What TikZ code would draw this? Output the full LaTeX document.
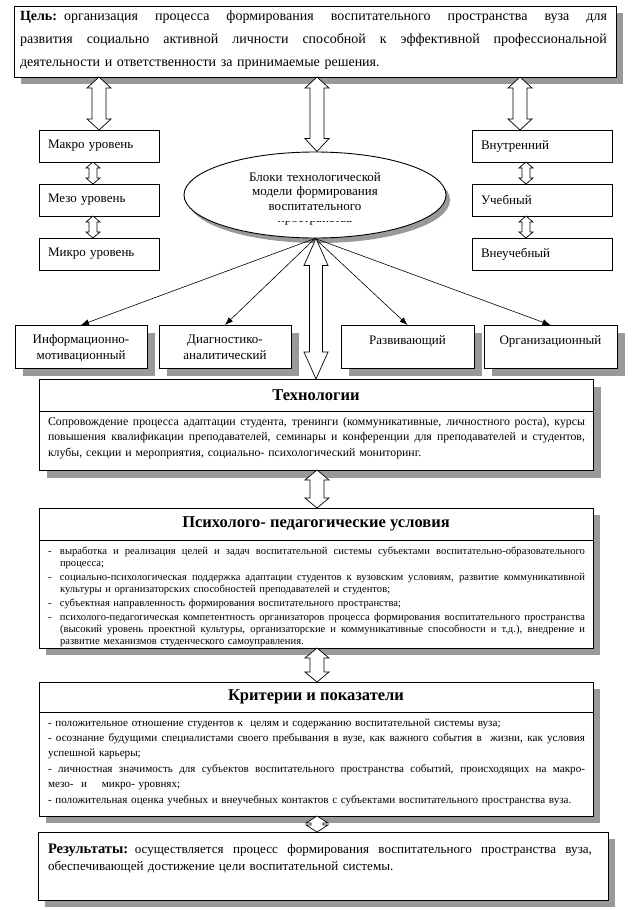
\documentclass[tikz,border=0pt]{standalone}
\usepackage{fontspec}
\setmainfont{Liberation Serif}
\usetikzlibrary{arrows.meta,calc,shapes.geometric,shadows}

\newcommand{\jl}[2]{\makebox[#1][s]{\spaceskip=0.3333em plus 1fil\relax #2}}
\newcommand{\itemJ}[1]{\makebox[12pt][l]{-}\makebox[525pt][s]{\spaceskip=0.3333em plus 1fil\relax #1}}
\newcommand{\itemL}[1]{\makebox[12pt][l]{-}#1}
\newcommand{\contJ}[1]{\hspace*{12pt}\makebox[525pt][s]{\spaceskip=0.3333em plus 1fil\relax #1}}
\newcommand{\contL}[1]{\hspace*{12pt}#1}

% vertical double block arrow: #1 x, #2 upper point, #3 lower point,
% #4 half shaft, #5 half head, #6 upper head length, #7 lower head length
\newcommand{\vdarrow}[7]{%
  \draw[blockarrow] let \p1=#2, \p2=#3 in
    (#1pt,\y1) -- (#1pt+#5pt,\y1-#6pt) -- (#1pt+#4pt,\y1-#6pt)
    -- (#1pt+#4pt,\y2+#7pt) -- (#1pt+#5pt,\y2+#7pt) -- (#1pt,\y2)
    -- (#1pt-#5pt,\y2+#7pt) -- (#1pt-#4pt,\y2+#7pt)
    -- (#1pt-#4pt,\y1-#6pt) -- (#1pt-#5pt,\y1-#6pt) -- cycle;}

\tikzset{
  box/.style={draw, line width=0.9pt, fill=white, rectangle, inner sep=0pt, outer sep=0pt, anchor=north west},
  shad/.style={drop shadow={shadow xshift=#1pt, shadow yshift=-#1pt, fill=black!40, opacity=1}},
  lbl/.style={inner sep=0pt, outer sep=0pt, anchor=base west, align=left},
  lvlbox/.style={box, minimum height=32pt, inner xsep=9pt, font=\fontsize{13}{15}\selectfont, align=left},
  blockbox/.style={box, minimum width=132pt, minimum height=43pt, shad=8},
  blocktext/.style={inner sep=0pt, anchor=base, text width=132pt, align=center, font=\fontsize{13}{16}\selectfont},
  blockarrow/.style={draw, fill=white, line width=0.7pt, line join=miter},
  conn/.style={-{Latex[length=8pt,width=6pt]}, line width=0.6pt},
  titletext/.style={inner sep=0pt, font=\fontsize{16.5}{19}\selectfont\bfseries},
  divider/.style={line width=0.9pt},
}

\begin{document}
\begin{tikzpicture}[x=1pt,y=-1pt]
\fill[white] (0,0) rectangle (634,910);
\useasboundingbox (0,0) rectangle (634,910);

% ---------- goal ----------
\node[box, minimum width=602pt, minimum height=71pt, shad=7] (goal) at (14,6) {};
\node[lbl, text width=587pt, font=\fontsize{14}{23}\selectfont] (goaltext) at (20,20) {%
\jl{587pt}{\textbf{Цель:} организация процесса формирования воспитательного пространства вуза для}\\
\jl{587pt}{развития социально активной личности способной к эффективной профессиональной}\\
деятельности и ответственности за принимаемые решения.};

% ---------- levels ----------
\node[lvlbox, minimum width=120pt, text width=102pt] (macro) at (39,130) {Макро уровень};
\node[lvlbox, minimum width=120pt, text width=102pt] (meso) at (39,184) {Мезо уровень};
\node[lvlbox, minimum width=120pt, text width=102pt] (micro) at (39,238) {Микро уровень};
\node[lvlbox, minimum width=140pt, text width=122pt] (inner) at (472,130) {Внутренний};
\node[lvlbox, minimum width=140pt, text width=122pt] (study) at (472,184) {Учебный};
\node[lvlbox, minimum width=140pt, text width=122pt] (extra) at (472,238) {Внеучебный};

% ---------- ellipse ----------
\node[ellipse, draw, line width=0.9pt, fill=white, minimum width=262pt, minimum height=86pt, inner sep=0pt,
      drop shadow={shadow xshift=4pt, shadow yshift=-5pt, fill=black!40, opacity=1}] (ell) at (315,195) {};
\node[inner sep=0pt, anchor=base, text width=200pt, align=center, font=\fontsize{13}{14.5}\selectfont] (elltext) at (315,181)
  {Блоки технологической\\модели формирования\\воспитательного};
\begin{scope}
  \clip (240,221) rectangle (390,227);
  \node[inner sep=0pt, anchor=base, font=\fontsize{13}{14.5}\selectfont] (ellcut) at (315,222.5) {пространства};
\end{scope}

% ---------- blocks ----------
\node[blockbox] (info) at (15,325) {};
\node[blocktext] (infotext) at (81,343) {Информационно-\\мотивационный};
\node[blockbox] (diag) at (159,325) {};
\node[blocktext] (diagtext) at (225,343) {Диагностико-\\аналитический};
\node[blockbox, minimum width=133pt] (devel) at (341,325) {};
\node[blocktext] (develtext) at (407.5,344) {Развивающий};
\node[blockbox, minimum width=133pt] (org) at (484,325) {};
\node[blocktext] (orgtext) at (550.5,344) {Организационный};

\draw[conn] (ell.south) -- (info.north);
\draw[conn] (ell.south) -- (diag.north);
\draw[conn] (ell.south) -- (devel.north);
\draw[conn] (ell.south) -- (org.north);

% ---------- technologies ----------
\node[box, minimum width=554pt, minimum height=91pt, shad=8] (tech) at (39,379) {};
\draw[divider] ($(tech.north west)+(0,32)$) -- ($(tech.north east)+(0,32)$);
\node[titletext] (techtitle) at ($(tech.north)+(0,16)$) {Технологии};
\node[lbl, text width=537pt, font=\fontsize{11.8}{15.5}\selectfont] (techbody) at (48,425) {%
\jl{537pt}{Сопровождение процесса адаптации студента, тренинги (коммуникативные, личностного роста), курсы}\\
\jl{537pt}{повышения квалификации преподавателей, семинары и конференции для преподавателей и студентов,}\\
клубы, секции и мероприятия, социально- психологический мониторинг.};

% ---------- conditions ----------
\node[box, minimum width=554pt, minimum height=140pt, shad=7] (psy) at (39,508) {};
\draw[divider] ($(psy.north west)+(0,32)$) -- ($(psy.north east)+(0,32)$);
\node[titletext] (psytitle) at ($(psy.north)+(0,16)$) {Психолого- педагогические условия};
\node[lbl, text width=537pt, font=\fontsize{10.6}{12}\selectfont] (psybody) at (48,554.5) {%
\itemJ{выработка и реализация целей и задач воспитательной системы субъектами воспитательно-образовательного}\\
\contL{процесса;}\\[2pt]
\itemJ{социально-психологическая поддержка адаптации студентов к вузовским условиям, развитие коммуникативной}\\
\contL{культуры и организаторских способностей преподавателей и студентов;}\\[2pt]
\itemL{субъектная направленность формирования воспитательного пространства;}\\[2pt]
\itemJ{психолого-педагогическая компетентность организаторов процесса формирования воспитательного пространства}\\
\contJ{(высокий уровень проектной культуры, организаторские и коммуникативные способности и т.д.), внедрение и}\\
\contL{развитие механизмов студенческого самоуправления.}};

% ---------- criteria ----------
\node[box, minimum width=554pt, minimum height=134pt, shad=7] (crit) at (39,682) {};
\draw[divider] ($(crit.north west)+(0,30)$) -- ($(crit.north east)+(0,30)$);
\node[titletext] (crittitle) at ($(crit.north)+(0,15)$) {Критерии и показатели};
\node[lbl, text width=537pt, font=\fontsize{11.1}{15.4}\selectfont] (critbody) at (48,726) {%
- положительное отношение студентов к\ \ целям и содержанию воспитательной системы вуза;\\
\jl{537pt}{- осознание будущими специалистами своего пребывания в вузе, как важного события в\ \ жизни, как условия}\\
успешной карьеры;\\
\jl{537pt}{- личностная значимость для субъектов воспитательного пространства событий, происходящих на макро-}\\
мезо-\ \ и\ \ \ \ микро- уровнях;\\
- положительная оценка учебных и внеучебных контактов с субъектами воспитательного пространства вуза.};

% ---------- results ----------
\node[box, minimum width=570pt, minimum height=68pt, shad=7] (res) at (38,832) {};
\node[lbl, text width=544pt, font=\fontsize{13.1}{17}\selectfont] (restext) at (48,853) {%
\jl{544pt}{{\fontsize{14.5}{17}\selectfont\bfseries Результаты:} осуществляется процесс формирования воспитательного пространства вуза,}\\
обеспечивающей достижение цели воспитательной системы.};

% ---------- block arrows ----------
\vdarrow{99}{(goal.south)}{(macro.north)}{7}{12}{11}{11}
\vdarrow{317}{(goal.south)}{(ell.north)}{7}{12}{11}{13}
\vdarrow{520}{(goal.south)}{(inner.north)}{7}{12}{11}{11}
\vdarrow{93}{(macro.south)}{(meso.north)}{4}{7}{6}{6}
\vdarrow{93}{(meso.south)}{(micro.north)}{4}{7}{6}{6}
\vdarrow{526}{(inner.south)}{(study.north)}{4}{7}{6}{6}
\vdarrow{526}{(study.south)}{(extra.north)}{4}{7}{6}{6}
\vdarrow{316}{(ell.south)}{(tech.north)}{6.5}{12}{27}{27}
\vdarrow{317}{(tech.south)}{(psy.north)}{7}{12}{10}{10}
\vdarrow{317}{(psy.south)}{(crit.north)}{7}{12}{10}{10}
\vdarrow{317}{(crit.south)}{(res.north)}{6}{11}{7}{7}
\end{tikzpicture}
\end{document}
